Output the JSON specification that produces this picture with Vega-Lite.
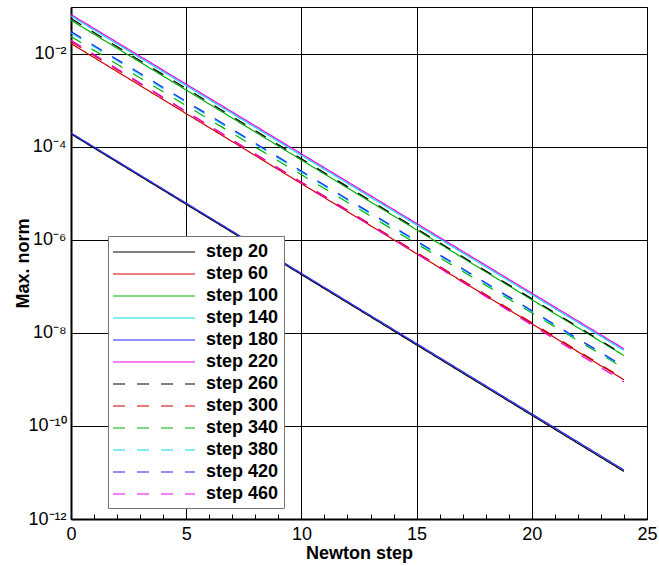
{
  "$schema": "https://vega.github.io/schema/vega-lite/v6.json",
  "width": 576,
  "height": 512,
  "autosize": {"type": "none"},
  "padding": {"left": 71, "top": 7, "right": 12, "bottom": 47},
  "config": {
    "font": "Liberation Sans",
    "view": {"stroke": "#000", "strokeWidth": 1},
    "background": "#ffffff"
  },
  "data": {
    "values": [
      {"series": "step 20", "step": 0, "norm": 1.87e-4},
      {"series": "step 20", "step": 24, "norm": 1.05e-11},
      {"series": "step 60", "step": 0, "norm": 1.64e-2},
      {"series": "step 60", "step": 24, "norm": 9.8e-10},
      {"series": "step 100", "step": 0, "norm": 5.2e-2},
      {"series": "step 100", "step": 24, "norm": 3.24e-9},
      {"series": "step 140", "step": 0, "norm": 6.4e-2},
      {"series": "step 140", "step": 24, "norm": 4.2e-9},
      {"series": "step 180", "step": 0, "norm": 1.97e-4},
      {"series": "step 180", "step": 24, "norm": 1.13e-11},
      {"series": "step 220", "step": 0, "norm": 6.9e-2},
      {"series": "step 220", "step": 24, "norm": 4.53e-9},
      {"series": "step 260", "step": 0, "norm": 5.66e-2},
      {"series": "step 260", "step": 24, "norm": 3.37e-9},
      {"series": "step 300", "step": 0, "norm": 1.81e-2},
      {"series": "step 300", "step": 24, "norm": 1.02e-9},
      {"series": "step 340", "step": 0, "norm": 2.32e-2},
      {"series": "step 340", "step": 24, "norm": 1.74e-9},
      {"series": "step 380", "step": 0, "norm": 2.8e-2},
      {"series": "step 380", "step": 24, "norm": 1.82e-9},
      {"series": "step 420", "step": 0, "norm": 2.97e-2},
      {"series": "step 420", "step": 24, "norm": 1.89e-9},
      {"series": "step 460", "step": 0, "norm": 1.93e-2},
      {"series": "step 460", "step": 24, "norm": 8.8e-10}
    ]
  },
  "mark": {"type": "line", "strokeWidth": 1.2, "clip": true},
  "encoding": {
    "x": {
      "field": "step",
      "type": "quantitative",
      "scale": {"domain": [0, 25], "nice": false},
      "axis": {
        "values": [0,1,2,3,4,5,6,7,8,9,10,11,12,13,14,15,16,17,18,19,20,21,22,23,24,25],
        "title": "Newton step",
        "titleFontSize": 18,
        "titleFontWeight": "bold",
        "titleColor": "#000",
        "titlePadding": 1,
        "labelFontSize": 18,
        "labelColor": "#000",
        "labelExpr": "datum.value % 5 == 0 ? datum.label : ''",
        "labelPadding": 11,
        "labelFlush": false,
        "labelOverlap": false,
        "tickSize": -5,
        "tickColor": "#000",
        "tickWidth": 1,
        "grid": true,
        "gridColor": "#000",
        "gridWidth": 1,
        "gridOpacity": {"condition": {"test": "datum.value % 5 == 0", "value": 1}, "value": 0},
        "domainColor": "#000",
        "domainWidth": 2
      }
    },
    "y": {
      "field": "norm",
      "type": "quantitative",
      "scale": {"type": "log", "domain": [1e-12, 0.1], "nice": false},
      "axis": {
        "values": [1e-12, 1e-10, 1e-8, 1e-6, 1e-4, 1e-2],
        "title": "Max. norm",
        "titleFontSize": 18,
        "titleFontWeight": "bold",
        "titleColor": "#000",
        "titleX": -39,
        "titleBaseline": "bottom",
        "labelFontSize": 18,
        "labelColor": "#000",
        "labelPadding": 5,
        "labelExpr": "round(log(datum.value)/LN10) == -2 ? '10⁻²' : round(log(datum.value)/LN10) == -4 ? '10⁻⁴' : round(log(datum.value)/LN10) == -6 ? '10⁻⁶' : round(log(datum.value)/LN10) == -8 ? '10⁻⁸' : round(log(datum.value)/LN10) == -10 ? '10⁻¹⁰' : '10⁻¹²'",
        "labelFlush": false,
        "labelOverlap": false,
        "ticks": false,
        "grid": true,
        "gridColor": "#000",
        "gridWidth": 1,
        "domainColor": "#000",
        "domainWidth": 2
      }
    },
    "color": {
      "field": "series",
      "type": "nominal",
      "sort": null,
      "scale": {
        "domain": ["step 20","step 60","step 100","step 140","step 180","step 220","step 260","step 300","step 340","step 380","step 420","step 460"],
        "range": ["#000000","#d00000","#00b000","#00e0e0","#2020ff","#ee00ee","#000000","#d00000","#00b000","#00e0e0","#2020ff","#ee00ee"]
      },
      "legend": {
        "title": null,
        "orient": "none",
        "legendX": 37,
        "legendY": 229,
        "symbolType": "M-4,0H4",
        "symbolSize": 420,
        "symbolStrokeWidth": 1.2,
        "symbolOffset": 30,
        "labelOffset": 41,
        "labelFontSize": 18,
        "labelFontWeight": "bold",
        "labelColor": "#000",
        "strokeColor": "#777",
        "fillColor": "#fff",
        "padding": 5,
        "rowPadding": 2
      }
    },
    "strokeDash": {
      "field": "series",
      "type": "nominal",
      "sort": null,
      "scale": {
        "domain": ["step 20","step 60","step 100","step 140","step 180","step 220","step 260","step 300","step 340","step 380","step 420","step 460"],
        "range": [[1,0],[1,0],[1,0],[1,0],[1,0],[1,0],[12,12],[12,12],[12,12],[12,12],[12,12],[12,12]]
      },
      "legend": {
        "title": null,
        "orient": "none",
        "legendX": 37,
        "legendY": 229,
        "symbolType": "M-4,0H4",
        "symbolSize": 420,
        "symbolStrokeWidth": 1.2,
        "symbolOffset": 30,
        "labelOffset": 41,
        "labelFontSize": 18,
        "labelFontWeight": "bold",
        "labelColor": "#000",
        "strokeColor": "#777",
        "fillColor": "#fff",
        "padding": 5,
        "rowPadding": 2
      }
    }
  }
}
